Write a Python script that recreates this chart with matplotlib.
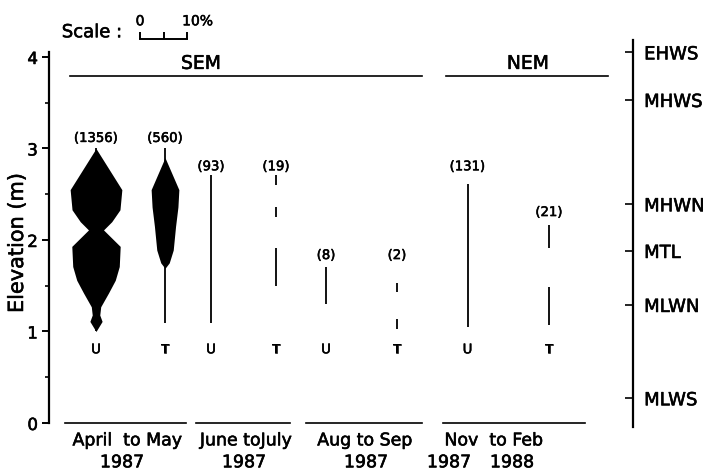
import numpy as np
import matplotlib
matplotlib.use("Agg")
import matplotlib.pyplot as plt
import matplotlib.patheffects as pe
from matplotlib.ticker import MultipleLocator

# samples, left to right: (U = untreated, T = treated) per period
shore = ["U", "T", "U", "T", "U", "T", "U", "T"]
counts = [1356, 560, 93, 19, 8, 2, 131, 21]

# elevation ranges occupied by each sample (m)
ranges = [
    [(1.00, 3.00)],
    [(1.09, 3.00)],
    [(1.09, 2.71)],
    [(2.60, 2.71), (2.25, 2.36), (1.50, 1.91)],
    [(1.30, 1.71)],
    [(1.43, 1.53), (1.03, 1.14)],
    [(1.05, 2.61)],
    [(1.91, 2.16), (1.07, 1.49)],
]

# kite profiles (% of individuals) for April-May
kite_u_elev = [3.00, 2.55, 2.33, 2.20, 2.11, 1.93, 1.71, 1.56, 1.42, 1.27, 1.18, 1.11, 1.00]
kite_u_pct = [0, 11.0, 10.2, 6.7, 3.2, 10.3, 9.9, 8.2, 5.3, 2.0, 1.6, 2.6, 0]
kite_t_elev = [2.90, 2.55, 2.36, 2.15, 1.89, 1.75, 1.69]
kite_t_pct = [0, 5.9, 5.5, 4.5, 3.5, 1.8, 0]

tide_names = ["EHWS", "MHWS", "MHWN", "MTL", "MLWN", "MLWS"]
tide_levels = [4.05, 3.53, 2.39, 1.88, 1.29, 0.27]

period_names = ["April  to May", "June toJuly", "Aug to Sep", "Nov  to Feb"]
period_years = [["1987"], ["1987"], ["1987"], ["1987", "1988"]]
monsoons = ["SEM", "NEM"]

# layout (x axis is in % units so kite widths use the scale bar directly)
PX = 4.7  # pixels per percent
def px(x):
    return (x - 49) / PX

centres = [px(v) for v in [96, 165, 211, 276, 326, 397, 467.5, 549]]
label_y = [3.11, 3.11, 2.80, 2.80, 1.83, 1.83, 2.80, 2.30]
period_lines = [(px(65), px(186)), (px(196), px(290)), (px(306), px(422)), (px(443), px(585))]
period_x = [px(v) for v in [127.5, 246, 365, 494]]
year_x = [[px(122)], [px(244)], [px(366)], [px(449), px(512)]]
monsoon_lines = [(px(70), px(422)), (px(446), px(608))]
monsoon_x = [px(201), px(528)]

heavy = [pe.withStroke(linewidth=0.4, foreground="black")]

fig = plt.figure(figsize=(7.03, 4.74), dpi=100)
ax = fig.add_axes([49 / 703, 0.0883, (633 - 49) / 703, 0.8494])
ax.set_xlim(0, px(633))
ax.set_ylim(-0.1, 4.3)

for s in ["top", "bottom"]:
    ax.spines[s].set_visible(False)
ax.spines["left"].set_bounds(0, 4.05)
ax.spines["right"].set_bounds(-0.04, 4.19)
for s in ["left", "right"]:
    ax.spines[s].set_linewidth(1.6)

ax.set_xticks([])
ax.set_yticks([0, 1, 2, 3, 4])
ax.yaxis.set_minor_locator(MultipleLocator(0.5))
ax.tick_params(axis="y", which="major", length=5, width=1.4, labelsize=12, pad=3)
ax.tick_params(axis="y", which="minor", length=3, width=1.2)

axr = ax.twinx()
axr.set_ylim(ax.get_ylim())
for s in axr.spines.values():
    s.set_visible(False)
axr.set_yticks(tide_levels, tide_names)
axr.tick_params(axis="y", direction="in", length=6, width=1.2, labelsize=13, pad=8)

for lab in ax.get_yticklabels() + axr.get_yticklabels():
    lab.set_path_effects(heavy)

# kites
c = centres[0]
w = np.array(kite_u_pct) / 2
ax.fill_betweenx(kite_u_elev, c - w, c + w, color="black", lw=0)
c = centres[1]
w = np.array(kite_t_pct) / 2
ax.fill_betweenx(kite_t_elev, c - w, c + w, color="black", lw=0)

# ranges, counts and shore labels
for i, segs in enumerate(ranges):
    for lo, hi in segs:
        ax.vlines(centres[i], lo, hi, color="black", lw=1.3)
    ax.text(centres[i], label_y[i], f"({counts[i]})", ha="center", va="center",
            fontsize=9.5, path_effects=heavy)
    ax.text(centres[i], 0.80, shore[i], ha="center", va="center", fontsize=9.5,
            path_effects=heavy)

# period lines and labels
for (x0, x1), name, xc, yrs, yx in zip(period_lines, period_names, period_x, period_years, year_x):
    ax.plot([x0, x1], [0, 0], color="black", lw=1.2, clip_on=False)
    ax.text(xc, -0.19, name, ha="center", va="center", fontsize=12.5, clip_on=False,
            path_effects=heavy)
    for y, x in zip(yrs, yx):
        ax.text(x, -0.43, y, ha="center", va="center", fontsize=12.5, clip_on=False,
                path_effects=heavy)

# monsoon lines and labels
for (x0, x1), name, xc in zip(monsoon_lines, monsoons, monsoon_x):
    ax.plot([x0, x1], [3.79, 3.79], color="black", lw=1.2)
    ax.text(xc, 3.93, name, ha="center", va="center", fontsize=13.5, path_effects=heavy)

# scale bar: 10 %
s0, s1 = px(140), px(140) + 10
ax.plot([s0, s1], [4.20, 4.20], color="black", lw=1.4, clip_on=False)
ax.vlines([s0, s0 + 5, s1], 4.20, 4.27, color="black", lw=1.4, clip_on=False)
ax.text(s0, 4.39, "0", ha="center", va="center", fontsize=10, clip_on=False,
        path_effects=heavy)
ax.text(px(197.5), 4.39, "10%", ha="center", va="center", fontsize=10, clip_on=False,
        path_effects=heavy)
ax.text(px(92), 4.27, "Scale :", ha="center", va="center", fontsize=13, clip_on=False,
        path_effects=heavy)

fig.text(17 / 703, 1 - 243 / 474, "Elevation (m)", rotation=90, ha="center", va="center",
         fontsize=15, path_effects=heavy)

fig.savefig("out.png", dpi=100)
